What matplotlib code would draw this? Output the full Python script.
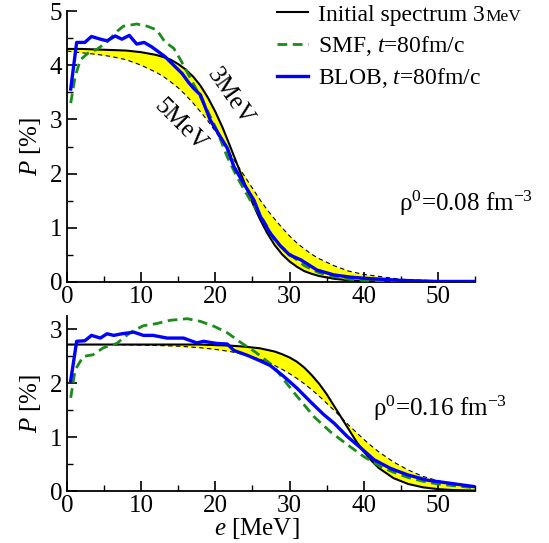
import matplotlib
matplotlib.use("Agg")
import matplotlib.pyplot as plt
from matplotlib.ticker import MultipleLocator

plt.rcParams["font.family"] = ["Liberation Serif", "DejaVu Serif"]
plt.rcParams["mathtext.fontset"] = "custom"
plt.rcParams["mathtext.rm"] = "Liberation Serif"
plt.rcParams["mathtext.it"] = "Liberation Serif:italic"

# ---- data ----
# initial spectra, rho0 = 0.08 fm^-3
e_top = [0, 2, 4, 6, 8, 10, 12, 13, 14, 15, 16, 17, 18, 19, 20, 21, 22, 23, 24,
         25, 26, 27, 28, 29, 30, 31, 32, 33, 34, 36, 38, 40, 45, 50, 55]
top_3mev = [4.30, 4.30, 4.29, 4.28, 4.27, 4.24, 4.19, 4.15, 4.10, 4.02, 3.92, 3.79,
            3.62, 3.40, 3.14, 2.84, 2.50, 2.15, 1.80, 1.46, 1.16, 0.90, 0.68, 0.51,
            0.38, 0.28, 0.20, 0.15, 0.11, 0.06, 0.03, 0.015, 0.002, 0.0, 0.0]
top_5mev = [4.26, 4.23, 4.20, 4.16, 4.10, 4.00, 3.87, 3.79, 3.69, 3.58, 3.45, 3.30,
            3.14, 2.97, 2.78, 2.57, 2.36, 2.15, 1.94, 1.73, 1.52, 1.33, 1.16, 1.00,
            0.85, 0.72, 0.61, 0.51, 0.43, 0.30, 0.20, 0.14, 0.05, 0.02, 0.007]

e_smf_top = [0.5, 1.1, 1.8, 2.9, 4.0, 5.4, 6.7, 7.6, 9.4, 10.8, 12.1, 13.2, 14.4,
             15.3, 16.4, 17.5, 18.9, 20.2, 21.6, 22.9, 24.7, 25.6, 27.0, 27.9, 29.7,
             30.6, 32, 34, 36, 38, 40, 45, 50, 55]
smf_top = [3.30, 3.79, 4.10, 4.23, 4.29, 4.43, 4.62, 4.72, 4.76, 4.72, 4.65, 4.43,
           4.31, 4.10, 3.82, 3.54, 3.17, 2.80, 2.31, 1.94, 1.51, 1.33, 1.02, 0.77,
           0.56, 0.45, 0.30, 0.17, 0.10, 0.05, 0.03, 0.01, 0.0, 0.0]

e_blob_top = [0.5, 1.3, 2.4, 3.3, 4.5, 5.4, 6.5, 7.4, 8.4, 9.4, 10.4, 11.4, 13.2,
              14.6, 15.5, 16.4, 17.1, 18.0, 19.3, 20.4, 21.6, 22.5, 23.8, 25.2,
              26.1, 27.4, 28.8, 30, 31.5, 33.7, 36, 38.2, 40, 45, 50, 55]
blob_top = [3.56, 4.42, 4.42, 4.53, 4.48, 4.45, 4.54, 4.48, 4.55, 4.39, 4.42, 4.34,
            4.16, 3.97, 3.85, 3.68, 3.57, 3.45, 2.99, 2.74, 2.47, 2.13, 1.82, 1.51,
            1.20, 0.90, 0.66, 0.50, 0.41, 0.22, 0.13, 0.09, 0.07, 0.03, 0.01, 0.01]

# initial spectra, rho0 = 0.16 fm^-3
e_bot = [0, 5, 10, 15, 18, 20, 22, 24, 26, 28, 29, 30, 31, 32, 33, 34, 35, 36, 37,
         38, 39, 40, 41, 42, 44, 46, 48, 50, 52, 55]
bot_3mev = [2.72, 2.72, 2.72, 2.72, 2.72, 2.71, 2.70, 2.68, 2.65, 2.59, 2.54, 2.48,
            2.40, 2.29, 2.15, 1.99, 1.80, 1.58, 1.36, 1.14, 0.92, 0.73, 0.57, 0.43,
            0.24, 0.13, 0.068, 0.035, 0.018, 0.007]
bot_5mev = [2.72, 2.72, 2.71, 2.69, 2.66, 2.63, 2.59, 2.53, 2.45, 2.33, 2.26, 2.18,
            2.09, 1.99, 1.88, 1.76, 1.63, 1.50, 1.36, 1.22, 1.09, 0.96, 0.84, 0.73,
            0.54, 0.39, 0.27, 0.19, 0.13, 0.072]

e_smf_bot = [0.5, 1.1, 2.2, 3.5, 4.9, 6.7, 8.5, 10.3, 12.1, 13.9, 16.2, 18.0, 19.8,
             21.6, 23.4, 25.4, 27.9, 29.2, 31.0, 33.3, 35.5, 37.8, 40.0, 42.3, 44,
             46, 48, 50, 52, 55]
smf_bot = [1.73, 2.25, 2.50, 2.53, 2.66, 2.74, 2.94, 3.07, 3.11, 3.17, 3.20, 3.15,
           3.06, 2.94, 2.76, 2.58, 2.31, 2.07, 1.76, 1.38, 1.10, 0.86, 0.64, 0.45,
           0.35, 0.25, 0.18, 0.13, 0.10, 0.06]

e_blob_bot = [0.5, 1.3, 2.4, 3.3, 4.5, 5.4, 6.3, 7.4, 9.0, 10.3, 11.6, 13.5, 15.7,
              17.5, 18.4, 20.2, 21.6, 22.5, 24.3, 26.0, 27.4, 29.2, 31.0, 32.8,
              34.6, 36.0, 37.8, 39.6, 41.4, 43.6, 45.9, 48.6, 51.3, 55]
blob_bot = [2.05, 2.78, 2.79, 2.89, 2.84, 2.92, 2.89, 2.92, 2.95, 2.89, 2.89, 2.84,
            2.84, 2.75, 2.78, 2.74, 2.73, 2.61, 2.52, 2.42, 2.33, 2.13, 1.91, 1.66,
            1.42, 1.26, 1.01, 0.80, 0.58, 0.42, 0.30, 0.20, 0.15, 0.08]

GREEN = "#1a8c1a"
BLUE = "#0000ff"
FS = 18


def style_axes(ax, ymax, ymajor):
    ax.set_xlim(0, 55)
    ax.set_ylim(0, ymax)
    ax.xaxis.set_major_locator(MultipleLocator(10))
    ax.xaxis.set_minor_locator(MultipleLocator(5))
    ax.yaxis.set_major_locator(MultipleLocator(ymajor))
    ax.yaxis.set_minor_locator(MultipleLocator(ymajor / 2))
    ax.tick_params(which="both", direction="in", labelsize=FS, top=False, right=False)
    ax.tick_params(which="major", length=7, width=1.2)
    ax.tick_params(axis="x", which="major", pad=3)
    ax.tick_params(axis="y", which="major", pad=3.5)
    ax.tick_params(which="minor", length=4, width=1.0)
    ax.spines["top"].set_visible(False)
    ax.spines["right"].set_visible(False)
    ax.spines["left"].set_linewidth(1.3)
    ax.spines["bottom"].set_linewidth(1.3)
    ax.set_ylabel(r"$P$ [%]", fontsize=FS, labelpad=5)


def draw_panel(ax, e_init, p3, p5, e_smf, smf, e_blob, blob):
    ax.fill_between(e_init, p3, p5, color="#ffff00", lw=0, zorder=1)
    ax.plot(e_init, p3, color="black", lw=1.5, zorder=2,
            label="Initial spectrum 3")
    ax.plot(e_init, p5, color="black", lw=0.8, ls=(0, (4, 3)), zorder=2)
    ax.plot(e_smf, smf, color=GREEN, lw=2, ls=(0, (3.5, 2)), zorder=3,
            label=r"SMF, $t$=80fm/c")
    ax.plot(e_blob, blob, color=BLUE, lw=2.4, zorder=4,
            label=r"BLOB, $t$=80fm/c")


fig = plt.figure(figsize=(5.49, 5.43), dpi=100)
ax1 = fig.add_axes([67 / 549, 261 / 543, 408 / 549, 271 / 543])
ax2 = fig.add_axes([67 / 549, 52 / 543, 408 / 549, 175 / 543])

draw_panel(ax1, e_top, top_3mev, top_5mev, e_smf_top, smf_top, e_blob_top, blob_top)
draw_panel(ax2, e_bot, bot_3mev, bot_5mev, e_smf_bot, smf_bot, e_blob_bot, blob_bot)
style_axes(ax1, 5, 1)
style_axes(ax2, 3.25, 1)
ax2.set_xlabel(r"$e$ [MeV]", fontsize=FS)
ax2.xaxis.set_label_coords(0.466, -0.142)

ax1.text(22.0, 3.41, "3MeV", fontsize=FS, rotation=-55, ha="center", va="center")
ax1.text(15.3, 2.88, "5MeV", fontsize=FS, rotation=-45, ha="center", va="center")

fig.text(533 / 549, 1 - 203 / 543, r"ρ$^0$=0.08 fm$^{-3}$", fontsize=FS,
         ha="right", va="center")
fig.text(507 / 549, 1 - 408 / 543, r"ρ$^0$=0.16 fm$^{-3}$", fontsize=FS,
         ha="right", va="center")

leg = ax1.legend(loc="upper left", bbox_to_anchor=(277 / 549, 1 - 4 / 543),
                 bbox_transform=fig.transFigure, frameon=False, fontsize=17,
                 borderpad=0, borderaxespad=0, handlelength=1.3,
                 handletextpad=0.45, labelspacing=0.35)

# the small "MeV" after "Initial spectrum 3"
fig.canvas.draw()
bb = leg.get_texts()[0].get_window_extent()
fig.text(bb.x1 / fig.bbox.width, bb.y0 / fig.bbox.height + 0.009, "MeV",
         fontsize=12.5, ha="left", va="baseline")

fig.savefig("out.png", dpi=100)
